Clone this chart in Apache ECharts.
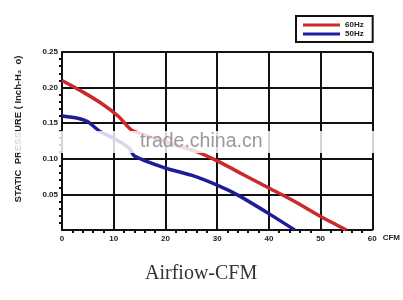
<!DOCTYPE html>
<html><head><meta charset="utf-8">
<script src="https://cdn.jsdelivr.net/npm/echarts@6/dist/echarts.min.js"></script>
<style>html,body{margin:0;padding:0;background:#fff;}#c{width:403px;height:300px;}</style>
</head><body><div id="c"></div>
<script>
const seriesNames = ['60Hz', '50Hz'];
const airflow60 = [0, 4, 8, 11, 13.5, 20, 26, 30, 35, 40, 45, 50, 55];
const pressure60 = [0.210, 0.194, 0.176, 0.159, 0.140, 0.124, 0.110, 0.097, 0.078, 0.059, 0.040, 0.019, 0];
const airflow50 = [0, 3, 5, 7.4, 10, 13, 14, 20, 25, 30, 34, 40, 45];
const pressure50 = [0.160, 0.157, 0.152, 0.138, 0.129, 0.115, 0.104, 0.087, 0.077, 0.063, 0.049, 0.023, 0];
const xTicks = [0, 10, 20, 30, 40, 50, 60];
const yTicks = ['0.05', '0.10', '0.15', '0.20', '0.25'];
const xTitle = 'Airfiow-CFM';
const yTitle = 'STATIC  PRESSURE ( Inch-H₂  o)';
const watermark = 'trade.china.cn';

const chart = echarts.init(document.getElementById('c'), null, {renderer: 'canvas'});
const pair = (xs, ys) => xs.map((x, i) => [x, ys[i]]);
const lblStyle = {fontFamily: 'Liberation Sans, Arial', fontSize: 8, fontWeight: 'bold', color: '#222'};
chart.setOption({
  animation: false,
  backgroundColor: '#fff',
  grid: {left: 62, right: 30, top: 52, bottom: 70},
  legend: {
    orient: 'vertical', left: 296, top: 16,
    padding: [5, 9, 4, 7], itemGap: 1, itemWidth: 37, itemHeight: 3, itemTextGap: 9,
    borderColor: '#111', borderWidth: 2,
    icon: 'rect',
    data: seriesNames,
    textStyle: Object.assign({}, lblStyle, {lineHeight: 8})
  },
  xAxis: {
    type: 'value', min: xTicks[0], max: xTicks[xTicks.length - 1], interval: 10,
    axisLine: {show: true, lineStyle: {color: '#111', width: 2}},
    axisTick: {show: false},
    minorTick: {show: true, splitNumber: 5, length: 3, lineStyle: {color: '#111', width: 2}},
    splitLine: {show: true, lineStyle: {color: '#111', width: 2}},
    axisLabel: Object.assign({margin: 5}, lblStyle),
    name: 'CFM', nameLocation: 'end', nameGap: 7,
    nameTextStyle: Object.assign({verticalAlign: 'top', padding: [4, 0, 0, 0]}, lblStyle)
  },
  yAxis: {
    type: 'value', min: 0, max: 0.25, interval: 0.05,
    axisLine: {show: true, lineStyle: {color: '#111', width: 2}},
    axisTick: {show: false},
    minorTick: {show: true, splitNumber: 5, length: 3, lineStyle: {color: '#111', width: 2}},
    splitLine: {show: true, lineStyle: {color: '#111', width: 2}},
    axisLabel: Object.assign({margin: 4, showMinLabel: false,
      formatter: v => { const s = v.toFixed(2); return yTicks.indexOf(s) >= 0 ? s : ''; }}, lblStyle),
    name: yTitle, nameLocation: 'middle', nameRotate: 90, nameGap: 39,
    nameTextStyle: {fontFamily: 'Liberation Sans, Arial', fontSize: 9.5, fontWeight: 'bold', color: '#222', padding: [0, 0, 0, 24]}
  },
  series: [
    {name: seriesNames[0], type: 'line', data: pair(airflow60, pressure60), smooth: 0.2, showSymbol: false,
     color: '#cc2a2a', lineStyle: {color: '#cc2a2a', width: 3.5}, z: 5},
    {name: seriesNames[1], type: 'line', data: pair(airflow50, pressure50), smooth: 0.2, showSymbol: false,
     color: '#1c1c9c', lineStyle: {color: '#1c1c9c', width: 3.5}, z: 5}
  ],
  graphic: [
    {type: 'rect', z: 100, shape: {x: 0, y: 131, width: 403, height: 22},
     style: {fill: 'rgba(255,255,255,0.82)'}},
    {type: 'text', z: 101, left: 140, top: 132,
     style: {text: watermark, fontFamily: 'Liberation Sans, Arial', fontSize: 19.5, fill: '#999'}},
    {type: 'text', z: 101, left: 145, top: 264,
     style: {text: xTitle, fontFamily: 'Liberation Serif, Times New Roman', fontSize: 20, fill: '#333'}}
  ]
});
</script></body></html>
